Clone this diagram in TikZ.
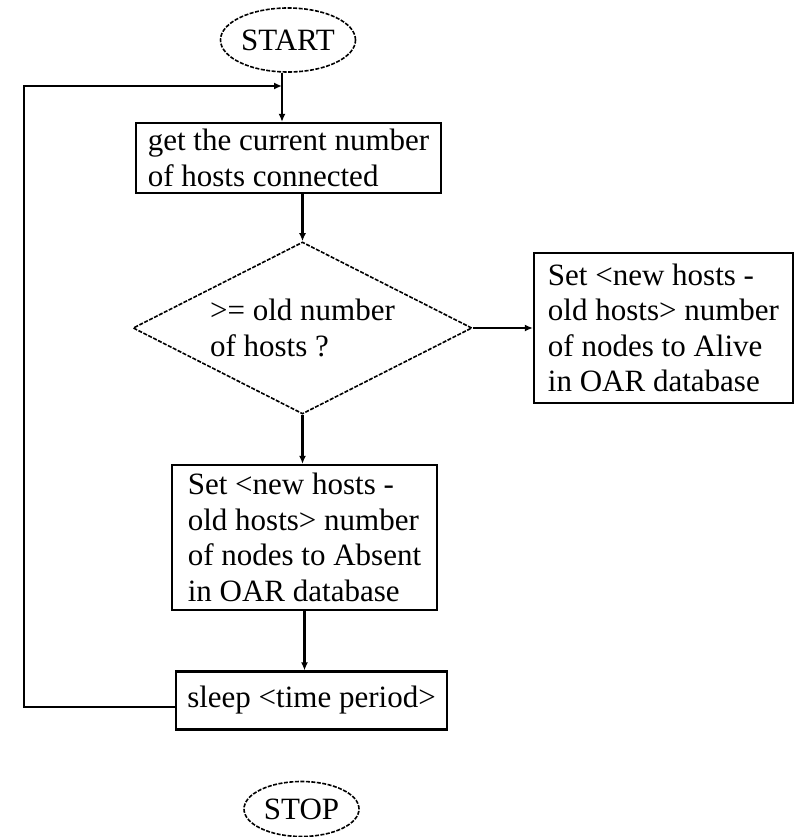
\documentclass[tikz,border=0pt]{standalone}
\usepackage{fontspec}
\setmainfont{Liberation Serif}
\usetikzlibrary{shapes.geometric,arrows.meta}

\tikzset{
  txt/.style={font=\fontsize{31}{35.5}\selectfont, text=black},
  procbox/.style={txt, draw=black, line width=2.2pt, rectangle, align=left, inner sep=0pt},
  terminal/.style={txt, draw=black, line width=1.6pt, dash pattern=on 4pt off 1.5pt, ellipse, inner sep=0pt},
  decision/.style={draw=black, line width=1.6pt, dash pattern=on 4pt off 1.5pt, diamond, inner sep=0pt},
  flow/.style={draw=black, line width=2.2pt, -{Latex[length=8pt,width=7pt]}},
}

\begin{document}
\begin{tikzpicture}[x=1pt, y=-1pt]
  \useasboundingbox (0,0) rectangle (798,837);

  % terminals
  \node[terminal, minimum width=135pt, minimum height=64pt] (start) at (288,40) {START};
  \node[terminal, minimum width=115pt, minimum height=55pt] (stop) at (301.5,809) {STOP};

  % process boxes
  \node[procbox, minimum width=305pt, minimum height=70pt] (box1) at (288.5,158)
    {get the current number\\of hosts connected};
  \node[procbox, minimum width=259pt, minimum height=150pt] (alive) at (663.5,328)
    {Set <new hosts -\\old hosts> number\\of nodes to Alive\\in OAR database};
  \node[procbox, minimum width=265pt, minimum height=145pt] (absent) at (304.5,537.5)
    {Set <new hosts -\\old hosts> number\\of nodes to Absent\\in OAR database};
  \node[procbox, minimum width=271pt, minimum height=58pt] (sleep) at (311.5,700.5)
    {sleep <time period>};

  % decision
  \node[decision, minimum width=339pt, minimum height=172pt] (dec) at (302.5,328) {};
  \node[txt, align=left, inner sep=0pt] (dectext) at (dec.center) {>= old number\\of hosts ?};

  % loop junction and corner point
  \coordinate (j) at (282,86);
  \coordinate (lc) at (24,707);

  % connectors
  \draw[flow] (start.south -| j) -- (j |- box1.north);
  \draw[flow] (dec.north |- box1.south) -- (dec.north);
  \draw[flow] (dec.east) -- (dec.east -| alive.west);
  \draw[flow] (dec.south) -- (dec.south |- absent.north);
  \draw[flow] (absent.south) -- (absent.south |- sleep.north);
  \draw[flow] (sleep.west |- lc) -- (lc) -- (lc |- j) -- (j);
\end{tikzpicture}
\end{document}
